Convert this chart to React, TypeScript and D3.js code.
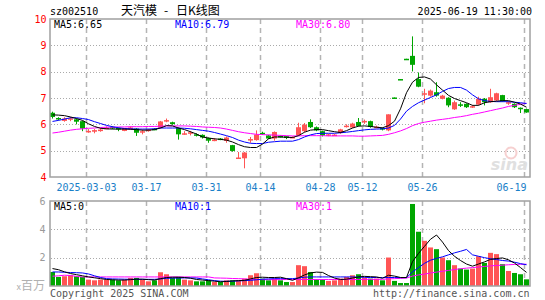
import React from "react";
import * as d3 from "d3";

// daily K-line, 2025-02-21 .. 2025-06-19 (80 trading days)
const openP = [6.44, 6.24, 6.13, 6.19, 6.19, 6.12, 5.73, 5.72, 5.79, 5.84, 5.90, 5.86, 5.75, 5.84, 5.84, 5.72, 5.77, 5.83, 5.87, 6.13,
  6.08, 5.86, 5.64, 5.64, 5.62, 5.60, 5.48, 5.40, 5.46, 5.37, 5.21, 4.72, 4.71, 5.42, 5.40, 5.68, 5.58, 5.46, 5.56, 5.55,
  5.50, 5.58, 5.74, 6.09, 5.89, 5.74, 5.58, 5.59, 5.67, 5.93, 5.88, 6.09, 6.10, 6.12, 5.90, 5.86, 5.77, 7.02, 7.72, 8.49,
  8.60, 7.72, 7.14, 7.09, 7.22, 6.97, 7.01, 6.57, 6.76, 6.78, 6.67, 6.75, 6.97, 6.84, 6.91, 7.11, 6.80, 6.78, 6.63, 6.58];
const closeP = [6.28, 6.20, 6.22, 6.23, 6.10, 5.84, 5.75, 5.78, 5.80, 5.87, 5.85, 5.82, 5.85, 5.88, 5.68, 5.74, 5.80, 5.81, 6.11, 6.16,
  6.01, 5.62, 5.66, 5.70, 5.57, 5.50, 5.38, 5.42, 5.43, 5.50, 4.99, 4.74, 4.93, 5.44, 5.61, 5.66, 5.46, 5.71, 5.53, 5.48,
  5.52, 5.89, 5.99, 5.89, 5.77, 5.58, 5.62, 5.61, 5.81, 5.95, 6.03, 5.94, 6.13, 5.90, 5.91, 5.80, 6.38, 7.02, 7.72, 8.49,
  8.26, 7.43, 7.18, 7.28, 7.09, 7.09, 6.72, 6.84, 6.74, 6.65, 6.69, 6.97, 6.84, 7.03, 7.18, 6.88, 6.84, 6.65, 6.58, 6.45];
const highP = [6.48, 6.27, 6.27, 6.28, 6.22, 6.14, 5.82, 5.82, 5.86, 5.92, 5.93, 5.88, 5.86, 5.92, 5.86, 5.80, 5.83, 5.86, 6.13, 6.22,
  6.10, 5.88, 5.74, 5.75, 5.66, 5.62, 5.50, 5.48, 5.48, 5.54, 5.22, 4.95, 4.95, 5.52, 5.77, 5.72, 5.60, 5.73, 5.58, 5.56,
  5.55, 6.06, 6.05, 6.19, 5.92, 5.76, 5.64, 5.63, 5.83, 6.00, 6.06, 6.24, 6.18, 6.14, 5.95, 5.88, 6.38, 7.02, 7.72, 8.49,
  9.34, 7.97, 7.35, 7.32, 7.60, 7.12, 7.03, 6.90, 6.84, 6.80, 6.74, 7.05, 7.00, 7.35, 7.20, 7.12, 6.88, 6.80, 6.64, 6.60];
const lowP = [6.22, 6.15, 6.10, 6.12, 6.00, 5.74, 5.68, 5.66, 5.72, 5.82, 5.82, 5.74, 5.74, 5.80, 5.56, 5.62, 5.72, 5.78, 5.85, 6.08,
  5.98, 5.42, 5.60, 5.58, 5.54, 5.46, 5.30, 5.36, 5.40, 5.30, 4.96, 4.70, 4.33, 5.30, 5.38, 5.60, 5.44, 5.38, 5.50, 5.44,
  5.48, 5.56, 5.70, 5.86, 5.74, 5.54, 5.55, 5.56, 5.64, 5.88, 5.86, 5.92, 6.02, 5.87, 5.85, 5.77, 5.74, 7.02, 7.72, 8.49,
  8.01, 7.41, 6.80, 7.05, 7.05, 6.95, 6.65, 6.55, 6.66, 6.62, 6.62, 6.72, 6.72, 6.82, 6.88, 6.86, 6.74, 6.62, 6.43, 6.44];
const volume = [0.99, 0.64, 0.69, 0.76, 0.69, 0.64, 0.45, 0.40, 0.45, 0.45, 0.45, 0.40, 0.45, 0.57, 0.57, 0.45, 0.33, 0.40, 0.97, 0.83,
  0.57, 0.64, 0.45, 0.40, 0.33, 0.33, 0.40, 0.28, 0.28, 0.40, 0.40, 0.40, 0.52, 0.76, 0.90, 0.52, 0.40, 0.52, 0.40, 0.28,
  0.28, 1.47, 1.40, 0.99, 0.47, 0.47, 0.36, 0.40, 0.52, 0.64, 0.76, 0.83, 0.59, 0.52, 0.52, 0.40, 2.01, 0.36, 0.21, 0.21,
  5.79, 3.83, 3.19, 2.72, 2.60, 2.01, 1.82, 1.47, 1.23, 1.16, 1.23, 2.10, 1.63, 2.34, 2.25, 1.54, 1.06, 0.92, 0.83, 0.47];

const ma5 = [6.36, 6.35, 6.33, 6.28, 6.22, 6.15, 6.02, 5.92, 5.85, 5.83, 5.82, 5.82, 5.82, 5.81, 5.80, 5.78, 5.78, 5.80, 5.86, 5.95,
  5.94, 5.86, 5.80, 5.72, 5.63, 5.52, 5.48, 5.45, 5.43, 5.40, 5.33, 5.23, 5.15, 5.12, 5.12, 5.25, 5.45, 5.52, 5.52, 5.51,
  5.50, 5.57, 5.70, 5.78, 5.80, 5.80, 5.76, 5.72, 5.69, 5.76, 5.86, 5.93, 5.94, 5.92, 5.89, 5.87, 5.95, 6.12, 6.59, 7.20,
  7.60, 7.78, 7.80, 7.72, 7.50, 7.30, 7.10, 6.98, 6.90, 6.82, 6.72, 6.72, 6.82, 6.86, 6.88, 6.90, 6.90, 6.84, 6.77, 6.65];
const ma10 = [6.11, 6.15, 6.20, 6.25, 6.25, 6.22, 6.18, 6.10, 6.03, 5.96, 5.91, 5.87, 5.84, 5.83, 5.82, 5.82, 5.82, 5.83, 5.86, 5.86,
  5.86, 5.86, 5.85, 5.83, 5.80, 5.77, 5.74, 5.69, 5.63, 5.57, 5.50, 5.40, 5.33, 5.28, 5.27, 5.27, 5.32, 5.34, 5.36, 5.36,
  5.36, 5.42, 5.52, 5.60, 5.65, 5.66, 5.66, 5.66, 5.68, 5.70, 5.73, 5.76, 5.79, 5.81, 5.82, 5.83, 5.86, 5.96, 6.20, 6.50,
  6.68, 6.82, 6.92, 7.02, 7.12, 7.25, 7.36, 7.40, 7.40, 7.30, 7.12, 6.97, 6.90, 6.87, 6.86, 6.86, 6.86, 6.84, 6.82, 6.79];
const ma30 = [5.67, 5.70, 5.74, 5.78, 5.81, 5.83, 5.85, 5.86, 5.88, 5.89, 5.89, 5.90, 5.90, 5.91, 5.91, 5.91, 5.92, 5.92, 5.93, 5.94,
  5.94, 5.94, 5.94, 5.93, 5.92, 5.90, 5.89, 5.88, 5.86, 5.82, 5.77, 5.72, 5.68, 5.65, 5.62, 5.61, 5.60, 5.59, 5.58, 5.57,
  5.56, 5.56, 5.57, 5.57, 5.57, 5.57, 5.56, 5.56, 5.56, 5.56, 5.56, 5.55, 5.55, 5.56, 5.57, 5.58, 5.62, 5.68, 5.75, 5.84,
  5.95, 6.03, 6.08, 6.12, 6.16, 6.19, 6.22, 6.26, 6.29, 6.33, 6.38, 6.42, 6.47, 6.52, 6.57, 6.62, 6.68, 6.72, 6.76, 6.80];
const volMa5 = [1.23, 1.15, 1.00, 0.88, 0.80, 0.72, 0.64, 0.58, 0.52, 0.46, 0.44, 0.42, 0.42, 0.45, 0.48, 0.48, 0.45, 0.42, 0.52, 0.60,
  0.62, 0.62, 0.60, 0.55, 0.46, 0.42, 0.38, 0.34, 0.30, 0.32, 0.36, 0.38, 0.40, 0.50, 0.60, 0.62, 0.60, 0.60, 0.62, 0.52,
  0.40, 0.58, 0.78, 0.92, 0.98, 0.96, 0.74, 0.56, 0.46, 0.48, 0.56, 0.64, 0.68, 0.66, 0.64, 0.55, 0.76, 0.70, 0.60, 0.60,
  1.72, 2.30, 2.80, 3.30, 3.60, 3.10, 2.50, 2.10, 1.80, 1.55, 1.40, 1.55, 1.70, 1.88, 1.94, 1.98, 1.85, 1.62, 1.30, 0.96];
const volMa10 = [0.99, 0.99, 0.97, 0.95, 0.94, 0.92, 0.85, 0.72, 0.60, 0.52, 0.50, 0.49, 0.48, 0.47, 0.47, 0.47, 0.47, 0.47, 0.50, 0.54,
  0.56, 0.56, 0.57, 0.57, 0.56, 0.50, 0.44, 0.38, 0.34, 0.33, 0.34, 0.36, 0.38, 0.40, 0.44, 0.48, 0.50, 0.52, 0.52, 0.52,
  0.52, 0.56, 0.62, 0.64, 0.64, 0.64, 0.64, 0.64, 0.64, 0.64, 0.64, 0.63, 0.61, 0.60, 0.60, 0.59, 0.60, 0.60, 0.59, 0.59,
  0.99, 1.30, 1.60, 1.82, 1.95, 2.06, 2.20, 2.34, 2.45, 2.58, 2.20, 2.10, 2.00, 1.92, 1.87, 1.80, 1.76, 1.68, 1.58, 1.50];
const volMa30 = [0.69, 0.72, 0.76, 0.74, 0.68, 0.64, 0.64, 0.64, 0.64, 0.64, 0.64, 0.64, 0.64, 0.64, 0.64, 0.64, 0.64, 0.64, 0.64, 0.64,
  0.64, 0.64, 0.64, 0.64, 0.64, 0.64, 0.64, 0.57, 0.56, 0.55, 0.53, 0.52, 0.50, 0.48, 0.46, 0.45, 0.45, 0.45, 0.45, 0.46,
  0.46, 0.46, 0.46, 0.46, 0.46, 0.46, 0.46, 0.46, 0.46, 0.46, 0.46, 0.46, 0.47, 0.47, 0.47, 0.47, 0.50, 0.52, 0.54, 0.56,
  0.70, 0.78, 0.84, 0.92, 0.98, 1.04, 1.10, 1.16, 1.22, 1.26, 1.30, 1.34, 1.38, 1.42, 1.45, 1.47, 1.50, 1.52, 1.53, 1.54];

const dateTickIdx = [6, 16, 26, 35, 45, 52, 62, 79];
const dateTickLabels = ["2025-03-03", "03-17", "03-31", "04-14", "04-28", "05-12", "05-26", "06-19"];
const priceTicks = [4, 5, 6, 7, 8, 9, 10];
const volTicks = [2, 4, 6];

const W = 545, H = 300;
const RED = "#ff5555", GREEN = "#00a600";
const MONO = "'DejaVu Sans Mono', monospace";
const CJK = "'Noto Sans CJK SC', sans-serif";

export default function App() {
  const idx = d3.range(closeP.length);
  const x = d3.scaleBand<number>().domain(idx).range([50, 530]);
  const yP = d3.scaleLinear().domain([4, 10]).range([177, 19]);
  const yV = d3.scaleLinear().domain([0, 6]).range([286, 201]);
  const cx = (i: number) => (x(i) as number) + 2.5;
  const up = (i: number) => closeP[i] > openP[i];

  const lineP = (arr: number[]) => d3.line<number>().x((_, i) => cx(i)).y(d => yP(d))(arr) || "";
  const lineV = (arr: number[]) => d3.line<number>().x((_, i) => cx(i)).y(d => yV(d))(arr) || "";

  const grid = (top: number, bottom: number, hTicks: number[], ys: (v: number) => number) => (
    <g>
      {hTicks.map(t => (
        <line key={"h" + t} x1={51} x2={529} y1={Math.round(ys(t)) + 0.5} y2={Math.round(ys(t)) + 0.5}
          stroke="#aaa" strokeDasharray="1,2" />
      ))}
      {dateTickIdx.map(i => (
        <line key={"v" + i} x1={(x(i) as number) + 0.5} x2={(x(i) as number) + 0.5} y1={top} y2={bottom}
          stroke="#b4b4b4" strokeWidth={1.5} strokeDasharray="5,4" />
      ))}
    </g>
  );

  return (
    <svg width={W} height={H} style={{ position: "absolute", left: 0, top: 0, background: "#fff" }}
      fontFamily={MONO} fontSize={10}>
      <text x={50} y={15} fill="#000">sz002510</text>
      <text y={15} fontFamily={CJK} fontSize={12} fill="#000">
        <tspan x={121}>天汽模</tspan>
        <tspan x={164}>-</tspan>
        <tspan x={176}>日K线图</tspan>
      </text>
      <text x={532} y={15} textAnchor="end" fill="#000">2025-06-19 11:30:00</text>

      {/* price panel */}
      {grid(19, 177, [5, 6, 7, 8, 9], yP)}
      {priceTicks.map(t => (
        <text key={t} x={46.5} y={yP(t) + 3.5} textAnchor="end" fill="#ff0000">{t}</text>
      ))}
      <g>
        <circle cx={511} cy={153} r={5.5} fill="none" stroke="#f6d0d0" strokeWidth={2} />
        <text x={528} y={170} textAnchor="end" fontFamily="'DejaVu Sans', sans-serif" fontSize={16}
          fontStyle="italic" fontWeight="bold" fill="#e0e0e0">sina</text>
      </g>
      {idx.map(i => {
        const c = up(i) ? RED : GREEN;
        const top = yP(Math.max(openP[i], closeP[i]));
        const bot = yP(Math.min(openP[i], closeP[i]));
        return (
          <g key={i}>
            <rect x={(x(i) as number) + 2} width={1} y={yP(highP[i])} height={Math.max(1, yP(lowP[i]) - yP(highP[i]))} fill={c} />
            <rect x={x(i)} width={5} y={top} height={Math.max(1.5, bot - top)} fill={c} />
          </g>
        );
      })}
      <path d={lineP(ma30)} fill="none" stroke="#ff00ff" strokeWidth={1} />
      <path d={lineP(ma10)} fill="none" stroke="#0000ff" strokeWidth={1} />
      <path d={lineP(ma5)} fill="none" stroke="#000" strokeWidth={1} />
      <rect x={50} y={19} width={480} height={158} fill="none" stroke="#a0a0a0" strokeWidth={1.5} />
      <text x={54} y={28} fill="#000">MA5:6.65</text>
      <text x={175} y={28} fill="#0000ff">MA10:6.79</text>
      <text x={296} y={28} fill="#ff00ff">MA30:6.80</text>

      {dateTickIdx.map((i, k) => {
        const last = k === dateTickIdx.length - 1;
        return (
          <text key={i} x={last ? 526.5 : (x(i) as number) + 0.5} y={191} textAnchor={last ? "end" : "middle"}
            fill="#1a80c8">{dateTickLabels[k]}</text>
        );
      })}

      {/* volume panel */}
      {grid(201, 286, [2, 4], yV)}
      {volTicks.map(t => (
        <text key={t} x={45.5} y={yV(t) + 3.5} textAnchor="end" fill="#999">{t}</text>
      ))}
      <text x={45} y={290} textAnchor="end" fill="#b0b0b0" fontFamily={CJK} fontSize={12}>
        <tspan fontSize={9}>x</tspan>百万
      </text>
      {idx.map(i => (
        <rect key={i} x={x(i)} width={5} y={yV(volume[i])} height={yV(0) - yV(volume[i])} fill={up(i) ? RED : GREEN} />
      ))}
      <path d={lineV(volMa30)} fill="none" stroke="#ff00ff" strokeWidth={1} />
      <path d={lineV(volMa10)} fill="none" stroke="#0000ff" strokeWidth={1} />
      <path d={lineV(volMa5)} fill="none" stroke="#000" strokeWidth={1} />
      <rect x={50} y={201} width={480} height={85} fill="none" stroke="#a0a0a0" strokeWidth={1.5} />
      <text x={54} y={210} fill="#000">MA5:0</text>
      <text x={175} y={210} fill="#0000ff">MA10:1</text>
      <text x={296} y={210} fill="#ff00ff">MA30:1</text>

      <text x={50} y={297} fill="#555">Copyright 2025 SINA.COM</text>
      <text x={529.5} y={297} textAnchor="end" fill="#555">http://finance.sina.com.cn</text>
    </svg>
  );
}
